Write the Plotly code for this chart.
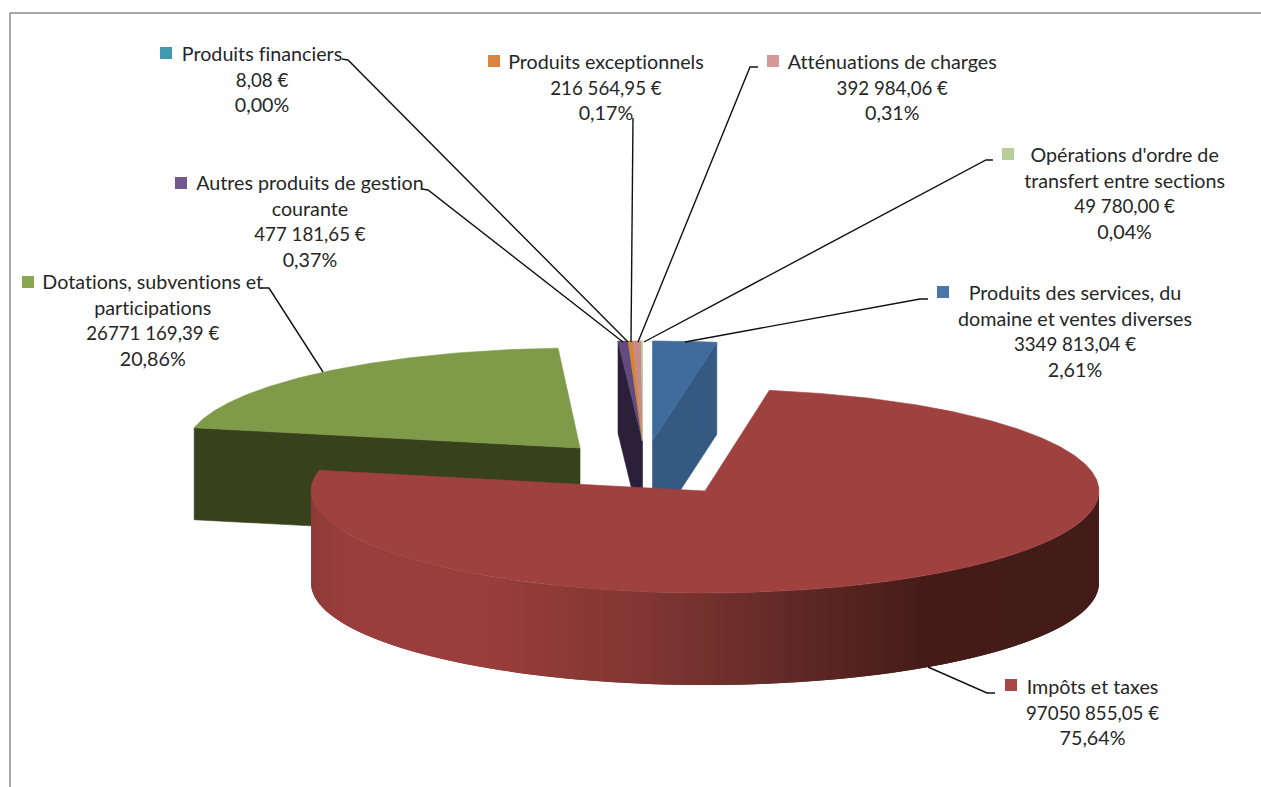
import numpy as np
import plotly.graph_objects as go

# ---- data ----
categories = ["Produits des services, du<br>domaine et ventes diverses", "Impôts et taxes",
              "Dotations, subventions et<br>participations", "Autres produits de gestion<br>courante",
              "Produits financiers", "Produits exceptionnels", "Atténuations de charges",
              "Opérations d'ordre de<br>transfert entre sections"]
amounts = [3349813.04, 97050855.05, 26771169.39, 477181.65, 8.08, 216564.95, 392984.06, 49780.00]
amount_labels = ["3349 813,04 €", "97050 855,05 €", "26771 169,39 €", "477 181,65 €",
                 "8,08 €", "216 564,95 €", "392 984,06 €", "49 780,00 €"]
percent_labels = ["2,61%", "75,64%", "20,86%", "0,37%", "0,00%", "0,17%", "0,31%", "0,04%"]

# ---- styles and layout ----
top_colors = ["#406C9C", "#9E413F", "#7F9A48", "#63497F", "#3F97AE", "#D8842F", "#C78A88", "#B5CC8E"]
key_colors = ["#4A76A8", "#AA4644", "#8BA650", "#71588F", "#4198AF", "#DB843D", "#D59A98", "#B9CD96"]
side_colors = {0: "#345A84", 2: "#37421D", 3: "#2A203A"}
apex = [(652.5, 441), (705, 491), (580, 448), (642.5, 441), (642.5, 441), (642.5, 441), (642.5, 441), (642.5, 441)]
radius_x = [394, 394, 394, 440, 440, 440, 440, 440]
radius_y = [100, 102, 100, 100, 100, 100, 100, 100]
DEPTH = 92
label_pos = [(1075, 330.5), (1092, 711.5), (153, 319.5), (310, 220.5), (262, 78.5), (606, 86.5), (892, 86.5), (1124, 192.5)]
key_pos = [(943, 292), (1011, 685), (28, 282), (181, 183), (166, 53), (494, 61), (773, 61), (1008, 154)]
leaders = [
    [(928, 299), (920, 299), (685, 342)],
    [(995, 693), (987, 693), (928, 667)],
    [(261, 288), (269, 288), (323, 372)],
    [(422, 189), (428, 190), (623, 342)],
    [(342, 59), (348, 60), (628, 342)],
    [(633, 118), (631, 342)],
    [(758, 67), (750, 67), (638, 342)],
    [(993, 160), (986, 160), (644, 342)],
]
wall_x = [311, 340, 480, 560, 640, 720, 800, 880, 920, 1000, 1099]
wall_rgb = [(142, 59, 57), (153, 62, 60), (154, 63, 61), (142, 58, 56), (130, 54, 51),
            (113, 48, 45), (96, 41, 38), (80, 32, 29), (70, 28, 25), (68, 27, 24), (67, 27, 24)]

total = sum(amounts)
edges = np.concatenate([[0], np.cumsum(amounts) / total * 360])


def pt(i, deg, drop=0):
    cx, cy = apex[i]
    a = np.radians(deg)
    return cx + radius_x[i] * np.sin(a), cy - radius_y[i] * np.cos(a) + drop


def poly(points, color, name, edge=0.6):
    xs, ys = zip(*points)
    return go.Scatter(x=list(xs) + [xs[0]], y=list(ys) + [ys[0]], mode="lines", fill="toself",
                      fillcolor=color, line=dict(color=color, width=edge), name=name,
                      hoverinfo="name", showlegend=False)


def top_face(i):
    n = max(2, int((edges[i + 1] - edges[i]) * 2) + 2)
    arc = [pt(i, d) for d in np.linspace(edges[i], edges[i + 1], n)]
    return poly([apex[i]] + arc, top_colors[i], categories[i].replace("<br>", " "))


def cut_face(i, deg, color):
    cx, cy = apex[i]
    x, y = pt(i, deg)
    return poly([(cx, cy), (x, y), (x, y + DEPTH), (cx, cy + DEPTH)], color, "side")


fig = go.Figure()

# green slice
fig.add_trace(cut_face(2, edges[2], side_colors[2]))
fig.add_trace(top_face(2))
# small slices around the top of the pie
fig.add_trace(cut_face(3, edges[3], side_colors[3]))
for i in range(3, 8):
    fig.add_trace(top_face(i))
# blue slice
fig.add_trace(cut_face(0, edges[1], side_colors[0]))
fig.add_trace(top_face(0))

# red slice: shaded outer wall, then the top. Each band runs under the next so no seams show.
wall_angles = np.arange(90, 270.01, 1.5)
for a0, a1 in zip(wall_angles[:-1], wall_angles[1:]):
    xm = pt(1, (a0 + a1) / 2)[0]
    rgb = [int(np.interp(xm, wall_x, [c[k] for c in wall_rgb])) for k in range(3)]
    color = "rgb(%d,%d,%d)" % tuple(rgb)
    a2 = min(a1 + 1.5, 270)
    fig.add_trace(go.Scatter(
        x=[pt(1, a)[0] for a in (a0, a2, a2, a0, a0)],
        y=[pt(1, a0)[1], pt(1, a2)[1], pt(1, a2, DEPTH)[1], pt(1, a0, DEPTH)[1], pt(1, a0)[1]],
        mode="lines", fill="toself", fillcolor=color, line=dict(width=0),
        hoverinfo="skip", showlegend=False))
fig.add_trace(top_face(1))

# leader lines
for line in leaders:
    xs, ys = zip(*line)
    fig.add_trace(go.Scatter(x=xs, y=ys, mode="lines", line=dict(color="#111111", width=1.4),
                             hoverinfo="skip", showlegend=False))

# legend keys
fig.add_trace(go.Scatter(x=[p[0] for p in key_pos], y=[p[1] for p in key_pos], mode="markers",
                         marker=dict(symbol="square", size=12, color=key_colors),
                         hoverinfo="skip", showlegend=False))

# labels
for name, amount, pct, (x, y) in zip(categories, amount_labels, percent_labels, label_pos):
    fig.add_annotation(x=x, y=y, xref="x", yref="y",
                       text=f'{name}<br><span style="font-size:18.7px">{amount}</span><br>{pct}',
                       showarrow=False, align="center", xanchor="center", yanchor="middle",
                       font=dict(family="Lato", size=19.7, color="#262626"))

# chart border
fig.add_shape(type="line", x0=10, y0=13, x1=1261, y1=13, line=dict(color="#8C8C8C", width=1.5))
fig.add_shape(type="line", x0=10, y0=13, x1=10, y1=787, line=dict(color="#8C8C8C", width=1.5))

fig.update_layout(width=1261, height=787, margin=dict(l=0, r=0, t=0, b=0),
                  paper_bgcolor="white", plot_bgcolor="white", showlegend=False,
                  xaxis=dict(range=[0, 1261], visible=False, fixedrange=True),
                  yaxis=dict(range=[787, 0], visible=False, fixedrange=True))

fig.write_html("out.html", config={"displayModeBar": False},
               post_script="document.body.style.margin='0';document.body.style.overflow='hidden';"
                           "var s=document.createElement('style');"
                           "s.textContent='text{font-variant-ligatures:none;font-feature-settings:\"liga\" 0}';"
                           "document.head.appendChild(s);")
